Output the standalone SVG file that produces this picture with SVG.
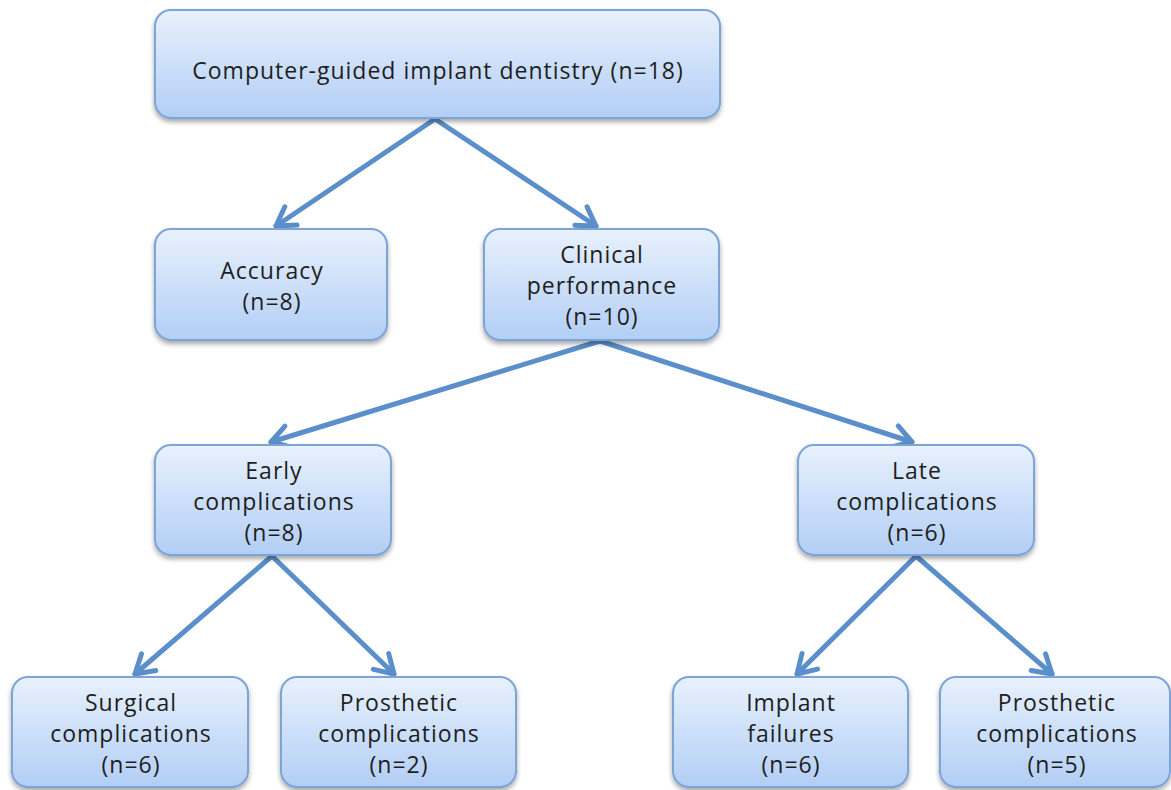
<svg xmlns="http://www.w3.org/2000/svg" width="1171" height="790" viewBox="0 0 1171 790">
<defs>
<linearGradient id="g" x1="0" y1="0" x2="0" y2="1">
<stop offset="0" stop-color="#e8f1fd"/>
<stop offset="1" stop-color="#b2cef5"/>
</linearGradient>
<filter id="sh" x="-10%" y="-10%" width="120%" height="130%">
<feGaussianBlur in="SourceAlpha" stdDeviation="2.5"/>
<feOffset dx="0" dy="3" result="b"/>
<feComponentTransfer><feFuncA type="linear" slope="0.35"/></feComponentTransfer>
<feMerge><feMergeNode/><feMergeNode in="SourceGraphic"/></feMerge>
</filter>
<marker id="ah" markerUnits="userSpaceOnUse" markerWidth="30" markerHeight="30" viewBox="-22 -15 26 30" refX="0" refY="0" orient="auto">
<path d="M-18,-11 L0,0 L-18,11" fill="none" stroke="#5b8fcb" stroke-width="5" stroke-linecap="round" stroke-linejoin="round"/>
</marker>
<style>
.box{fill:url(#g);stroke:#7ba4d6;stroke-width:2;filter:url(#sh)}
.t{font-family:"Open Sans","Lato","Liberation Sans",sans-serif;font-size:23px;letter-spacing:1px;fill:#1e1e1e;text-anchor:middle}
.c{stroke:#5b8fcb;stroke-width:5;fill:none;marker-end:url(#ah);stroke-linecap:round}
</style>
</defs>
<rect width="1171" height="790" fill="#ffffff"/>
<g id="connectors">
<line class="c" x1="435" y1="119" x2="276" y2="226"/>
<line class="c" x1="435" y1="119" x2="596" y2="226"/>
<line class="c" x1="600" y1="341" x2="271" y2="442"/>
<line class="c" x1="600" y1="341" x2="912" y2="442"/>
<line class="c" x1="272" y1="556" x2="135" y2="674"/>
<line class="c" x1="272" y1="556" x2="394" y2="674"/>
<line class="c" x1="916" y1="556" x2="797" y2="674"/>
<line class="c" x1="916" y1="556" x2="1052" y2="674"/>
</g>
<g id="n-root">
<rect class="box" x="155" y="10" width="565" height="108" rx="16"/>
<text class="t" x="438" y="79">Computer-guided implant dentistry (n=18)</text>
</g>
<g id="n-accuracy">
<rect class="box" x="155" y="229" width="232" height="111" rx="16"/>
<text class="t" x="272" y="279">Accuracy</text>
<text class="t" x="272" y="310">(n=8)</text>
</g>
<g id="n-clinical">
<rect class="box" x="484" y="229" width="235" height="111" rx="16"/>
<text class="t" x="602" y="263">Clinical</text>
<text class="t" x="602" y="294">performance</text>
<text class="t" x="602" y="325">(n=10)</text>
</g>
<g id="n-early">
<rect class="box" x="155" y="445" width="236" height="110" rx="16"/>
<text class="t" x="274" y="479">Early</text>
<text class="t" x="274" y="510">complications</text>
<text class="t" x="274" y="541">(n=8)</text>
</g>
<g id="n-late">
<rect class="box" x="798" y="445" width="236" height="110" rx="16"/>
<text class="t" x="917" y="479">Late</text>
<text class="t" x="917" y="510">complications</text>
<text class="t" x="917" y="541">(n=6)</text>
</g>
<g id="n-surgical">
<rect class="box" x="12" y="677" width="236" height="110" rx="16"/>
<text class="t" x="131" y="711">Surgical</text>
<text class="t" x="131" y="742">complications</text>
<text class="t" x="131" y="773">(n=6)</text>
</g>
<g id="n-prosthetic1">
<rect class="box" x="281" y="677" width="235" height="110" rx="16"/>
<text class="t" x="399" y="711">Prosthetic</text>
<text class="t" x="399" y="742">complications</text>
<text class="t" x="399" y="773">(n=2)</text>
</g>
<g id="n-implant">
<rect class="box" x="673" y="677" width="235" height="110" rx="16"/>
<text class="t" x="791" y="711">Implant</text>
<text class="t" x="791" y="742">failures</text>
<text class="t" x="791" y="773">(n=6)</text>
</g>
<g id="n-prosthetic2">
<rect class="box" x="940" y="677" width="230" height="110" rx="16"/>
<text class="t" x="1057" y="711">Prosthetic</text>
<text class="t" x="1057" y="742">complications</text>
<text class="t" x="1057" y="773">(n=5)</text>
</g>
</svg>
